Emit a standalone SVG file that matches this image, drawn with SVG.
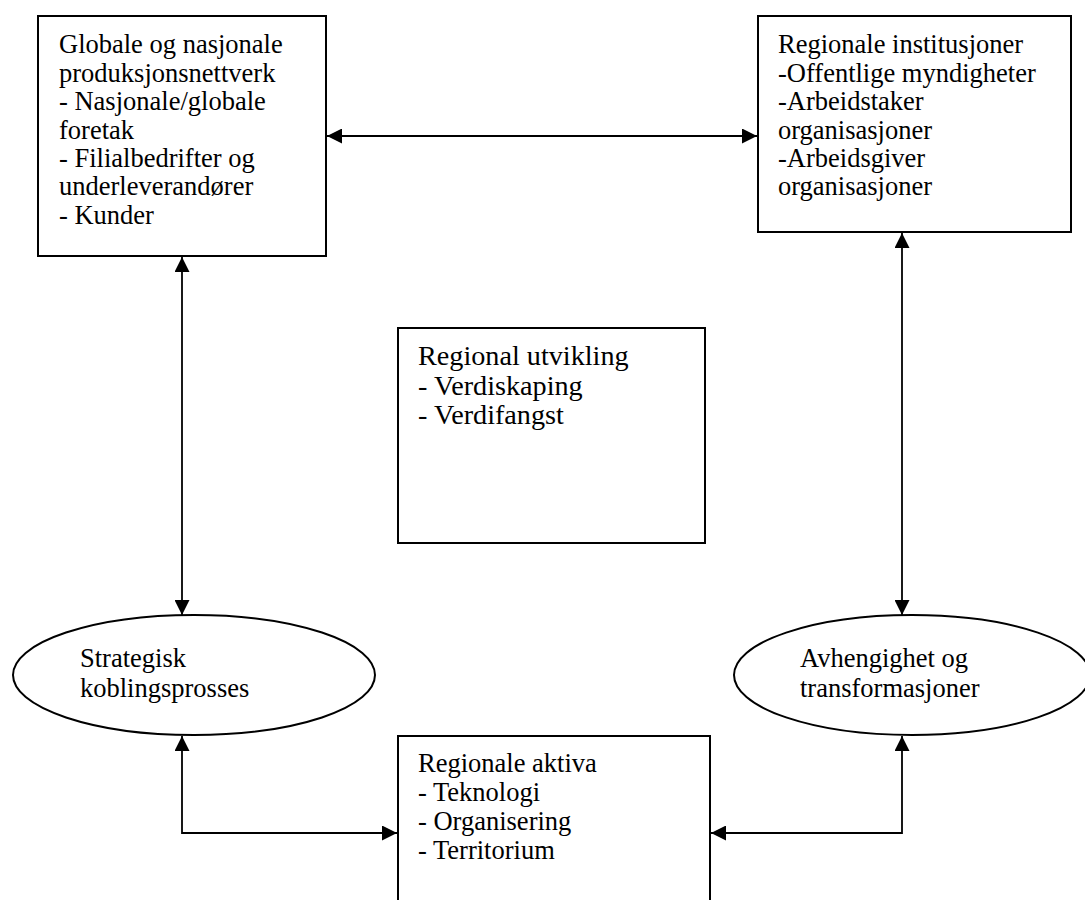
<svg xmlns="http://www.w3.org/2000/svg" width="1085" height="900" viewBox="0 0 1085 900">
<style>
.box{fill:#fff;stroke:#000;stroke-width:2}
.t{font-family:'Liberation Serif','Times New Roman','DejaVu Serif',serif;font-size:26.5px;fill:#000}
.tc{font-family:'Liberation Serif','Times New Roman','DejaVu Serif',serif;font-size:28.2px;fill:#000}
.c{fill:none;stroke:#000;stroke-width:1.8}
</style>
<defs>
<marker id="ah" markerUnits="userSpaceOnUse" markerWidth="15" markerHeight="15" refX="15" refY="7.5" orient="auto-start-reverse" viewBox="0 0 15 15">
<path d="M0,0 L15,7.5 L0,15 z" fill="#000"/>
</marker>
</defs>
<rect width="1085" height="900" fill="#fff"/>
<g id="global">
<rect class="box" x="38" y="16" width="288" height="240"/>
<text class="t"><tspan x="59" y="53">Globale og nasjonale</tspan><tspan x="59" y="81.5">produksjonsnettverk</tspan><tspan x="59" y="110">- Nasjonale/globale</tspan><tspan x="59" y="138.5">foretak</tspan><tspan x="59" y="167">- Filialbedrifter og</tspan><tspan x="59" y="195">underleverandører</tspan><tspan x="59" y="223.5">- Kunder</tspan></text>
</g>
<g id="institusjoner">
<rect class="box" x="758" y="16" width="313" height="216"/>
<text class="t"><tspan x="778" y="53">Regionale institusjoner</tspan><tspan x="778" y="81.5">-Offentlige myndigheter</tspan><tspan x="778" y="110">-Arbeidstaker</tspan><tspan x="778" y="138.5">organisasjoner</tspan><tspan x="778" y="167">-Arbeidsgiver</tspan><tspan x="778" y="195">organisasjoner</tspan></text>
</g>
<g id="utvikling">
<rect class="box" x="398" y="328" width="307" height="215"/>
<text class="tc"><tspan x="418" y="365">Regional utvikling</tspan><tspan x="418" y="394.5">- Verdiskaping</tspan><tspan x="418" y="424">- Verdifangst</tspan></text>
</g>
<g id="strategisk">
<ellipse class="box" cx="194" cy="675" rx="181" ry="60"/>
<text class="t"><tspan x="80" y="667">Strategisk</tspan><tspan x="80" y="697">koblingsprosses</tspan></text>
</g>
<g id="avhengighet">
<ellipse class="box" cx="912" cy="675" rx="178" ry="60"/>
<text class="t"><tspan x="800" y="667">Avhengighet og</tspan><tspan x="800" y="697">transformasjoner</tspan></text>
</g>
<g id="aktiva">
<rect class="box" x="398" y="736" width="312" height="200"/>
<text class="t"><tspan x="418" y="772">Regionale aktiva</tspan><tspan x="418" y="801">- Teknologi</tspan><tspan x="418" y="830">- Organisering</tspan><tspan x="418" y="859">- Territorium</tspan></text>
</g>
<g id="connectors">
<line class="c" x1="327" y1="136" x2="757" y2="136" marker-start="url(#ah)" marker-end="url(#ah)"/>
<line class="c" x1="182" y1="257" x2="182" y2="615" marker-start="url(#ah)" marker-end="url(#ah)"/>
<line class="c" x1="902" y1="233" x2="902" y2="615" marker-start="url(#ah)" marker-end="url(#ah)"/>
<polyline class="c" points="182,736 182,833 397,833" marker-start="url(#ah)" marker-end="url(#ah)"/>
<polyline class="c" points="902,736 902,833 711,833" marker-start="url(#ah)" marker-end="url(#ah)"/>
</g>
</svg>
